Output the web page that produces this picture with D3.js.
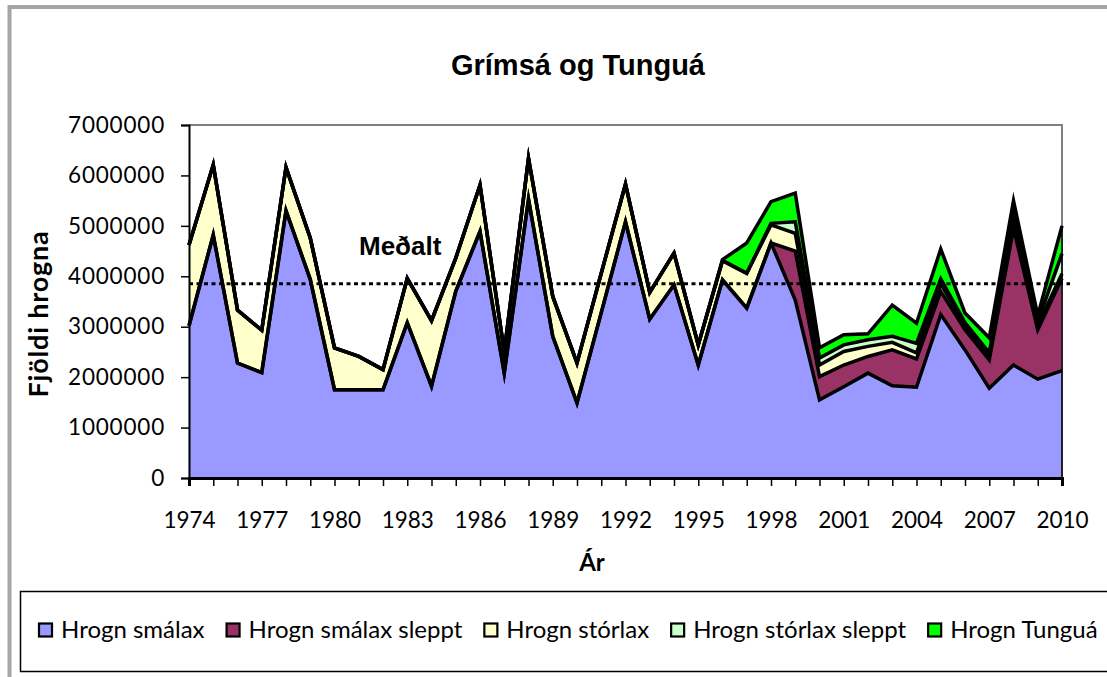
<!DOCTYPE html>
<html>
<head>
<meta charset="utf-8">
<script src="https://cdn.jsdelivr.net/npm/d3@7"></script>
<style>
  html, body { margin: 0; padding: 0; background: #fff; }
  svg { display: block; }
</style>
</head>
<body>
<svg id="chart" width="1107" height="677"></svg>
<script>
// ---------------- DATA ----------------
const years = d3.range(1974, 2011);
const xTickLabels = ["1974","1977","1980","1983","1986","1989","1992","1995","1998","2001","2004","2007","2010"];
const yTickValues = [0, 1000000, 2000000, 3000000, 4000000, 5000000, 6000000, 7000000];
const seriesNames = ["Hrogn smálax", "Hrogn smálax sleppt", "Hrogn stórlax", "Hrogn stórlax sleppt", "Hrogn Tunguá"];
const seriesColors = ["#9999FF", "#993366", "#FFFFCC", "#CCFFCC", "#00FF00"];

const smalax = [3020000,4820000,2280000,2090000,5300000,3940000,1750000,1750000,1750000,3080000,
  1820000,3700000,4890000,2080000,5530000,2810000,1490000,3280000,5080000,3150000,
  3830000,2240000,3930000,3370000,4660000,3530000,1550000,1810000,2080000,1830000,
  1800000,3240000,2540000,1780000,2240000,1960000,2130000];
const smalaxSleppt = [0,0,0,0,0,0,0,0,0,0,
  0,0,0,0,0,0,0,0,0,0,
  0,0,0,0,0,970000,460000,430000,330000,710000,
  560000,460000,400000,560000,2710000,980000,1830000];
const storlax = [1600000,1390000,1050000,840000,860000,820000,830000,660000,400000,880000,
  1300000,660000,920000,420000,810000,790000,790000,780000,750000,530000,
  630000,400000,380000,690000,360000,350000,230000,270000,200000,150000,
  120000,150000,80000,80000,150000,90000,90000];
const storlaxSleppt = [0,0,0,0,0,0,0,0,0,0,
  0,0,0,0,0,0,0,0,0,0,
  0,0,0,0,30000,230000,140000,130000,130000,120000,
  190000,100000,60000,60000,150000,70000,400000];
const tungua = [0,0,0,0,0,0,0,0,0,0,
  0,0,0,0,0,0,0,0,0,0,
  0,0,20000,600000,430000,570000,200000,200000,120000,620000,
  400000,590000,190000,300000,250000,120000,550000];
const medaltal = 3850000;

const title = "Grímsá og Tunguá";
const yTitle = "Fjöldi hrogna";
const xTitle = "Ár";
const meanLabel = "Meðalt";

// ---------------- CHART ----------------
const svg = d3.select("#chart");
svg.append("rect").attr("width", 1107).attr("height", 677).attr("fill", "#fff");

// outer chart frame
svg.append("rect").attr("x", 9.5).attr("y", 7).attr("width", 1130).attr("height", 700)
  .attr("fill", "none").attr("stroke", "#a6a6a6").attr("stroke-width", 4);

const L = 189, R = 1062, T = 125, B = 478;
const x = d3.scalePoint().domain(years).range([L, R]).padding(0);
const y = d3.scaleLinear().domain([0, 7000000]).range([B, T]);

const table = years.map((yr, i) => ({
  year: yr,
  s0: smalax[i], s1: smalaxSleppt[i], s2: storlax[i], s3: storlaxSleppt[i], s4: tungua[i]
}));
const keys = ["s0","s1","s2","s3","s4"];
const stacked = d3.stack().keys(keys)(table);

const area = d3.area()
  .x(d => x(d.data.year))
  .y0(d => y(d[0]))
  .y1(d => y(d[1]));
const topLine = d3.line()
  .x(d => x(d.data.year))
  .y(d => y(d[1]));

svg.append("g").selectAll("path").data(stacked).join("path")
  .attr("d", area)
  .attr("fill", (d, i) => seriesColors[i])
  .attr("stroke", (d, i) => seriesColors[i])
  .attr("stroke-width", 0.5);

// plot border top/right (gray)
svg.append("path")
  .attr("d", `M${L},${T}H${R}V${B}`)
  .attr("fill", "none").attr("stroke", "#808080").attr("stroke-width", 2);

// right edge of the stacked areas
const lastTop = stacked[stacked.length - 1][years.length - 1][1];
svg.append("line").attr("x1", R).attr("x2", R).attr("y1", y(lastTop)).attr("y2", B)
  .attr("stroke", "#000").attr("stroke-width", 1.5);

svg.append("g").selectAll("path").data(stacked).join("path")
  .attr("d", topLine)
  .attr("fill", "none")
  .attr("stroke", "#000")
  .attr("stroke-width", 3.5)
  .attr("stroke-linejoin", "miter")
  .attr("stroke-miterlimit", 8);

// mean dotted line
svg.append("line")
  .attr("x1", L).attr("x2", R + 8)
  .attr("y1", y(medaltal)).attr("y2", y(medaltal))
  .attr("stroke", "#000").attr("stroke-width", 3).attr("stroke-dasharray", "4,3.5");

svg.append("text").attr("x", 359).attr("y", 255)
  .attr("font-family", "Liberation Sans, Arial, sans-serif").attr("font-weight", "bold")
  .attr("font-size", 26).attr("fill", "#000").text(meanLabel);

// Y axis
const yAxis = d3.axisLeft(y).tickValues(yTickValues).tickSize(8).tickPadding(16)
  .tickFormat(d => String(d));
const gy = svg.append("g").attr("transform", `translate(${L},0)`).call(yAxis);
gy.select(".domain").attr("stroke", "#000").attr("stroke-width", 2);
gy.selectAll(".tick line").attr("stroke", "#000").attr("stroke-width", 1.5);
gy.selectAll(".tick text")
  .attr("font-family", "Lato, sans-serif").attr("font-size", 22.5)
  .attr("letter-spacing", 0.8).attr("fill", "#000");

// X axis
const xAxis = d3.axisBottom(x).tickValues(years).tickSize(8).tickPadding(26)
  .tickFormat(d => xTickLabels.includes(String(d)) ? String(d) : "");
const gx = svg.append("g").attr("transform", `translate(0,${B})`).call(xAxis);
gx.select(".domain").attr("stroke", "#000").attr("stroke-width", 3);
gx.selectAll(".tick line").attr("stroke", "#000").attr("stroke-width", 1.5);
gx.selectAll(".tick text")
  .attr("font-family", "Lato, sans-serif").attr("font-size", 22.5).attr("fill", "#000");

// titles
svg.append("text").attr("x", 578).attr("y", 75).attr("text-anchor", "middle")
  .attr("font-family", "Liberation Sans, Arial, sans-serif").attr("font-weight", "bold")
  .attr("font-size", 29).attr("fill", "#000").text(title);

svg.append("text").attr("x", 592).attr("y", 571).attr("text-anchor", "middle")
  .attr("font-family", "Lato, sans-serif").attr("font-weight", "bold")
  .attr("font-size", 24).attr("fill", "#000").text(xTitle);

svg.append("text").attr("transform", "translate(48,314) rotate(-90)").attr("text-anchor", "middle")
  .attr("font-family", "Lato, sans-serif").attr("font-weight", "bold")
  .attr("font-size", 27).attr("letter-spacing", 0.8).attr("fill", "#000").text(yTitle);

// legend
svg.append("rect").attr("x", 20.5).attr("y", 591.5).attr("width", 1120).attr("height", 80)
  .attr("fill", "#fff").attr("stroke", "#000").attr("stroke-width", 1.5);

const lg = svg.append("g");
let cx = 38;
seriesNames.forEach((name, i) => {
  lg.append("rect").attr("x", cx + 1).attr("y", 623.5).attr("width", 13).attr("height", 13)
    .attr("fill", seriesColors[i]).attr("stroke", "#000").attr("stroke-width", 2.2);
  const t = lg.append("text").attr("x", cx + 23).attr("y", 638)
    .attr("font-family", "Lato, sans-serif").attr("font-size", 24).attr("fill", "#000").text(name);
  cx += 23 + t.node().getComputedTextLength() + 21;
});
</script>
</body>
</html>
